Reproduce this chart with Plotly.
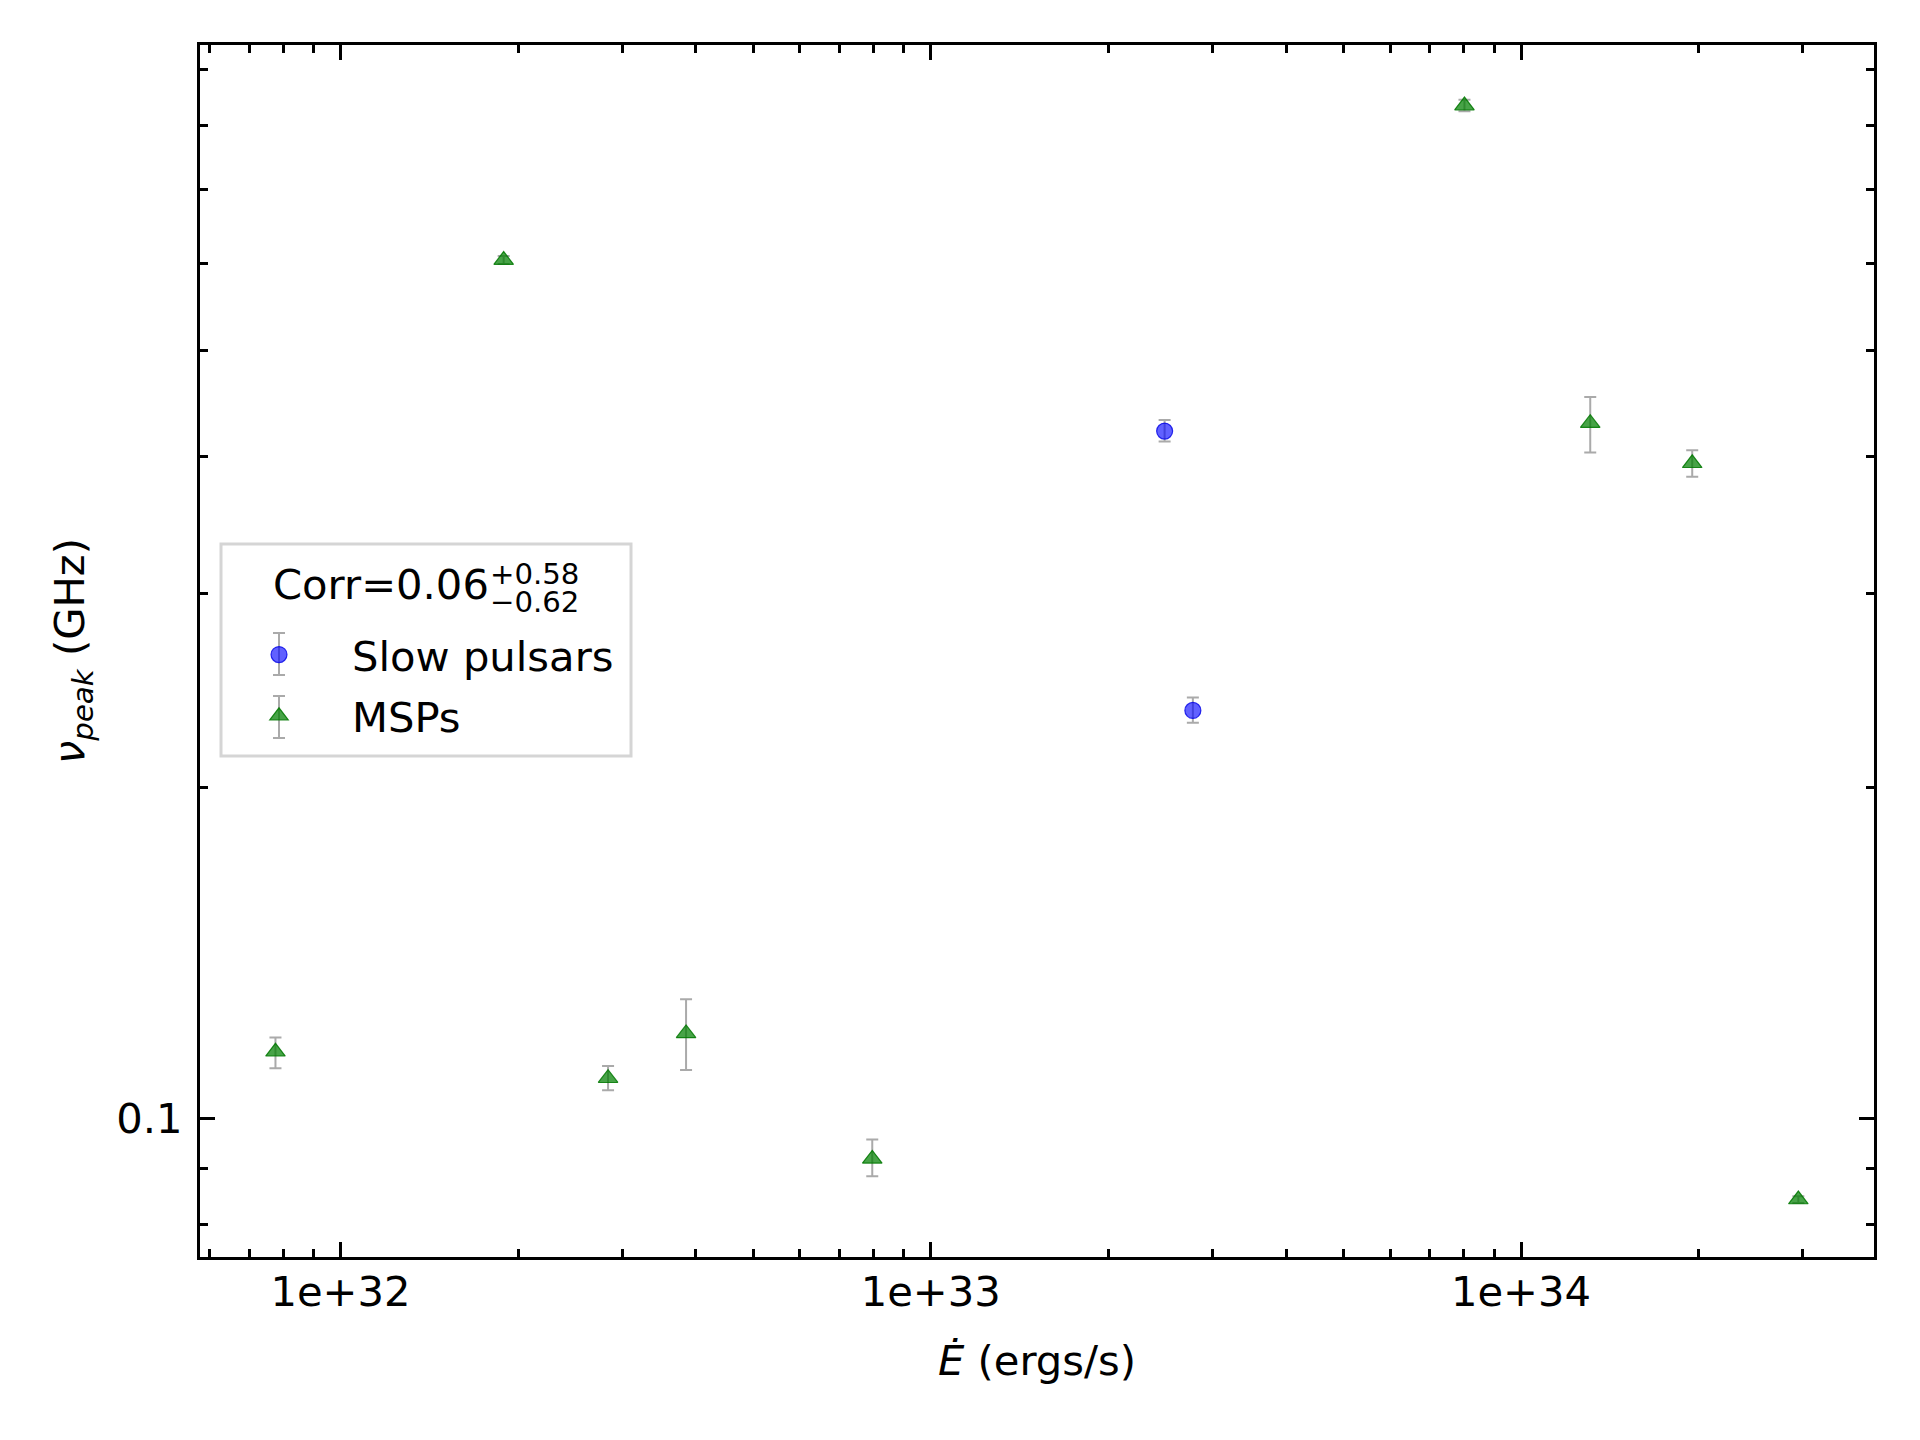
import plotly.graph_objects as go

# ---------------- data ----------------
slow_edot = [2.49e33, 2.78e33]
slow_nu = [0.422, 0.235]
slow_err_plus = [0.010, 0.0065]
slow_err_minus = [0.009, 0.006]

msp_edot = [7.76e31, 1.89e32, 2.84e32, 3.85e32, 7.96e32, 8.02e33, 1.31e34, 1.95e34, 2.95e34]
msp_nu = [0.1149, 0.604, 0.1087, 0.1194, 0.0918, 0.835, 0.4291, 0.3945, 0.0843]
msp_err_plus = [0.0035, 0.005, 0.0028, 0.0089, 0.0038, 0.010, 0.0241, 0.0109, 0.0006]
msp_err_minus = [0.0039, 0.005, 0.0027, 0.0088, 0.0033, 0.010, 0.0255, 0.0109, 0.0006]

x_tickvals = [1e32, 1e33, 1e34]
x_ticktext = ["1e+32", "1e+33", "1e+34"]
x_minor = [6e31, 7e31, 8e31, 9e31,
           2e32, 3e32, 4e32, 5e32, 6e32, 7e32, 8e32, 9e32,
           2e33, 3e33, 4e33, 5e33, 6e33, 7e33, 8e33, 9e33,
           2e34, 3e34]
y_tickvals = [0.1]
y_ticktext = ["0.1"]
y_minor = [0.08, 0.09, 0.2, 0.3, 0.4, 0.5, 0.6, 0.7, 0.8, 0.9]

corr_text = "Corr=0.06"
corr_plus = "+0.58"
corr_minus = "\u22120.62"

# ---------------- geometry ----------------
W, H = 1920, 1440
L, R, T, B = 200, 1874, 45, 1257
PW, PH = R - L, B - T
FONT = "DejaVu Sans"
FS = 41.7


def px(xp):
    return (xp - L) / PW


def py(yp):
    return (B - yp) / PH


fig = go.Figure()

fig.add_trace(go.Scatter(
    x=slow_edot, y=slow_nu, mode="markers", name="\u00a0\u00a0\u00a0\u00a0Slow pulsars",
    legendgroup="slow",
    marker=dict(symbol="circle", size=16, color="rgba(0,0,255,0.62)",
                line=dict(color="rgba(0,0,230,0.8)", width=1.2)),
    error_y=dict(type="data", array=slow_err_plus, arrayminus=slow_err_minus,
                 color="#aaaaaa", thickness=2, width=6),
))

fig.add_trace(go.Scatter(
    x=msp_edot, y=msp_nu, mode="markers", name="\u00a0\u00a0\u00a0\u00a0MSPs",
    legendgroup="msp",
    marker=dict(symbol="triangle-up", size=17, color="rgba(0,128,0,0.72)",
                line=dict(color="rgba(0,120,0,0.85)", width=1.2)),
    error_y=dict(type="data", array=msp_err_plus, arrayminus=msp_err_minus,
                 color="#aaaaaa", thickness=2, width=6),
))

axis_common = dict(
    type="log", showgrid=False, zeroline=False,
    showline=True, linecolor="black", linewidth=3.3, mirror="ticks",
    ticks="inside", ticklen=14.6, tickwidth=3.3, tickcolor="black",
    tickfont=dict(family=FONT, size=FS, color="black"),
)

fig.update_xaxes(
    **axis_common,
    range=[31.762, 34.598],
    tickmode="array", tickvals=x_tickvals, ticktext=x_ticktext,
    minor=dict(ticks="inside", ticklen=8.3, tickwidth=2.5, tickcolor="black",
               tickmode="array", tickvals=x_minor, showgrid=False),
    ticklabelstandoff=-4,
    title=dict(text="<i>\u0116</i> (ergs/s)", font=dict(family=FONT, size=FS, color="black"),
               standoff=31),
)

fig.update_yaxes(
    **axis_common,
    range=[-1.1265, -0.0232],
    tickmode="array", tickvals=y_tickvals, ticktext=y_ticktext,
    minor=dict(ticks="inside", ticklen=8.3, tickwidth=2.5, tickcolor="black",
               tickmode="array", tickvals=y_minor, showgrid=False),
    ticklabelstandoff=6,
    title=dict(text="<i>\u03bd</i><sub><i>peak</i></sub> (GHz)",
               font=dict(family=FONT, size=FS, color="black"), standoff=19),
)

# legend frame
fig.add_shape(type="rect", xref="paper", yref="paper",
              x0=px(221), x1=px(631), y0=py(756), y1=py(544),
              line=dict(color="#d5d5d5", width=3), fillcolor="rgba(255,255,255,0.8)",
              layer="above")

# error-bar glyphs in legend
for yc, half in [(654, 21), (717, 21)]:
    fig.add_shape(type="line", xref="paper", yref="paper",
                  x0=px(279), x1=px(279), y0=py(yc - half), y1=py(yc + half),
                  line=dict(color="#aaaaaa", width=2), layer="above")
    for yy in (yc - half, yc + half):
        fig.add_shape(type="line", xref="paper", yref="paper",
                      x0=px(273), x1=px(285), y0=py(yy), y1=py(yy),
                      line=dict(color="#aaaaaa", width=2), layer="above")

# legend title (Corr with stacked sup/sub)
fig.add_annotation(xref="paper", yref="paper", x=px(491), y=py(585),
                   xanchor="right", yanchor="middle", showarrow=False,
                   text=corr_text, font=dict(family=FONT, size=FS, color="black"))
fig.add_annotation(xref="paper", yref="paper", x=px(488), y=py(574),
                   xanchor="left", yanchor="middle", showarrow=False,
                   text=corr_plus, font=dict(family=FONT, size=29.2, color="black"))
fig.add_annotation(xref="paper", yref="paper", x=px(488), y=py(602),
                   xanchor="left", yanchor="middle", showarrow=False,
                   text=corr_minus, font=dict(family=FONT, size=29.2, color="black"))

fig.update_layout(
    width=W, height=H,
    margin=dict(l=L, r=W - R, t=T, b=H - B, autoexpand=False),
    paper_bgcolor="white", plot_bgcolor="white",
    font=dict(family=FONT, size=FS, color="black"),
    showlegend=True,
    legend=dict(x=px(259), y=py(621), xanchor="left", yanchor="top",
                bgcolor="rgba(0,0,0,0)", borderwidth=0,
                font=dict(family=FONT, size=FS, color="black"),
                itemwidth=30, tracegroupgap=4),
)

fig.write_html("out.html")
